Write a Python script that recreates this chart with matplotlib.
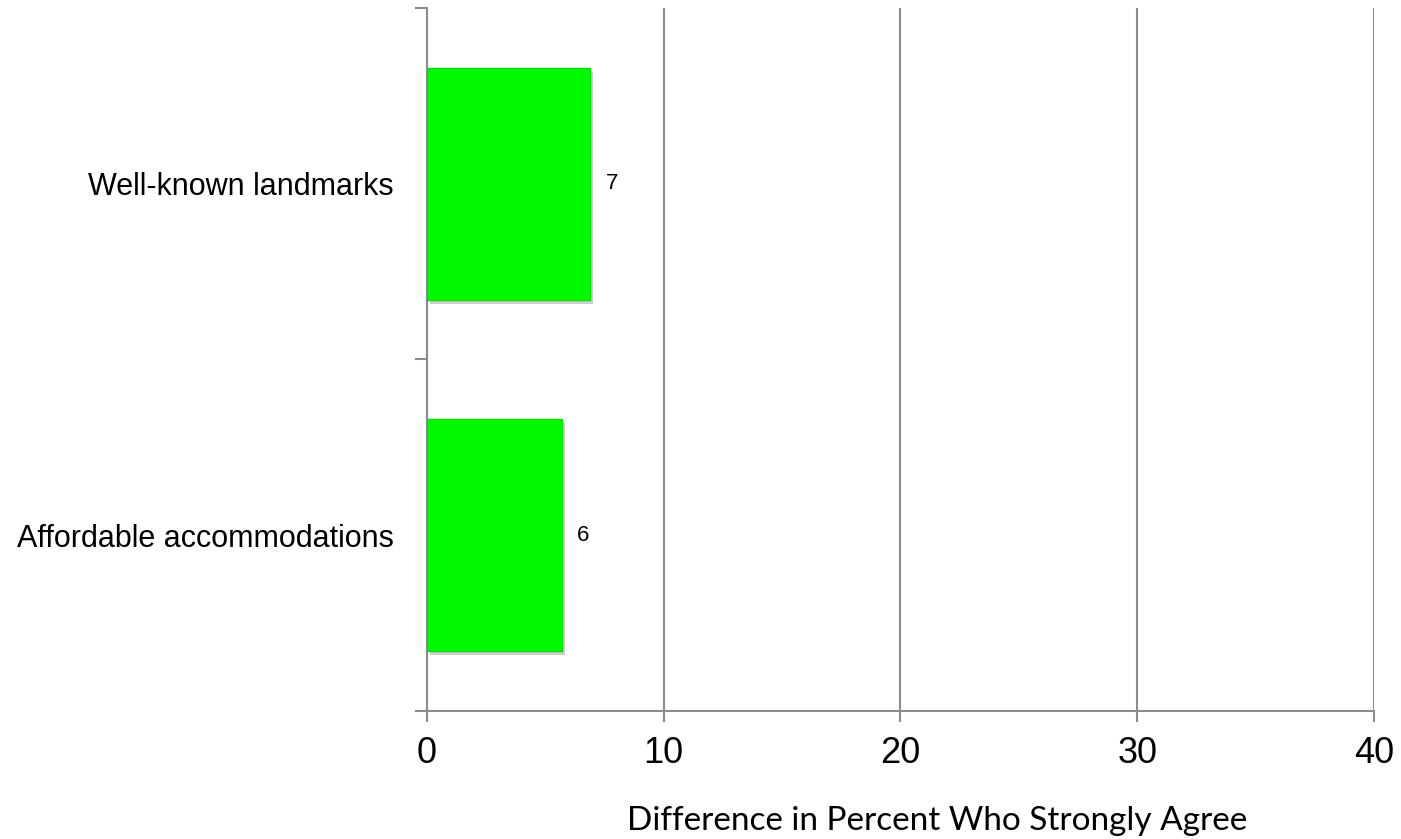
import matplotlib
matplotlib.use("Agg")
import matplotlib.pyplot as plt
import matplotlib.patheffects as pe
from matplotlib import font_manager

categories = ["Affordable accommodations", "Well-known landmarks"]
values = [5.7, 6.9]
x_ticks = [0, 10, 20, 30, 40]
x_label = "Difference in Percent Who Strongly Agree"

names = {f.name for f in font_manager.fontManager.ttflist}
if "Liberation Sans Narrow" in names:
    cat_font, cat_size = "Liberation Sans Narrow", 27
else:
    cat_font, cat_size = "Liberation Sans", 22

DPI = 100
fig = plt.figure(figsize=(14.01, 8.39), dpi=DPI)
ax = fig.add_axes([0.3048, 0.1526, 0.9807 - 0.3048, 0.9905 - 0.1526])

grid_col = "#8c8c8c"
bars = ax.barh(range(len(categories)), values, height=0.66, color="#00f800",
               edgecolor="#00e000", linewidth=1.0, zorder=3)
for b in bars:
    b.set_path_effects([pe.SimplePatchShadow(offset=(2, -3), shadow_rgbFace="#000000", alpha=0.2),
                        pe.Normal()])

for i, v in enumerate(values):
    ax.annotate(f"{v:.0f}", xy=(v, i), xytext=(11, 0), textcoords="offset points",
                va="center", ha="left", fontsize=16, family="Liberation Sans", color="#000000")

ax.set_xlim(0, 40)
ax.set_ylim(-0.5, len(categories) - 0.5)
ax.set_xticks(x_ticks)
ax.set_xticklabels([str(t) for t in x_ticks], family="Liberation Sans", fontsize=26)
ax.set_yticks([-0.5, 0.5, 1.5], minor=False)
ax.set_yticklabels([])
ax.set_yticks(range(len(categories)), minor=True)
ax.set_yticklabels(categories, minor=True, family=cat_font, fontsize=cat_size)
ax.tick_params(axis="y", which="minor", length=0, pad=24)
ax.tick_params(axis="y", which="major", length=9, width=1.5, color=grid_col)
ax.tick_params(axis="x", length=8, width=1.5, color=grid_col, pad=10)

ax.grid(axis="x", color=grid_col, linewidth=1.5, zorder=0)
for side in ["top", "right"]:
    ax.spines[side].set_visible(False)
for side in ["left", "bottom"]:
    ax.spines[side].set_color(grid_col)
    ax.spines[side].set_linewidth(1.5)

fig.text(937 / 1401, 1 - 821 / 839, x_label, ha="center", va="center",
         fontsize=24, family="Lato")

fig.savefig("out.png", dpi=DPI, facecolor="white")
